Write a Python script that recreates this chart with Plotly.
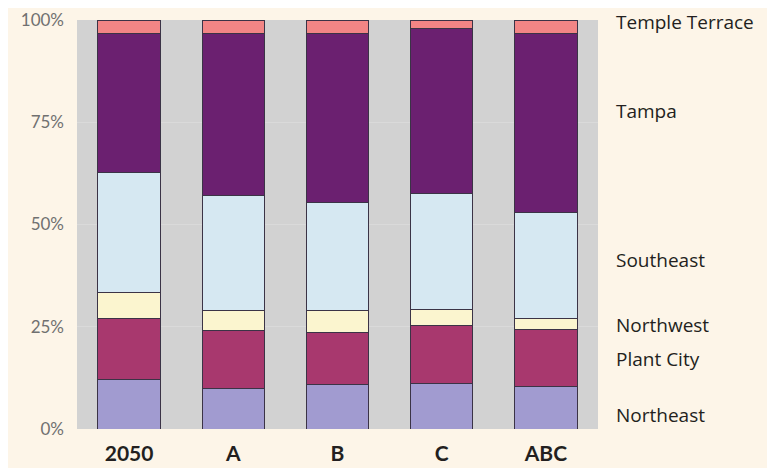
import plotly.graph_objects as go

categories = ["2050", "A", "B", "C", "ABC"]
northeast = [12.2, 10.0, 11.0, 11.2, 10.3]
plant_city = [14.9, 14.0, 12.7, 14.2, 14.1]
northwest = [6.2, 5.0, 5.2, 3.9, 2.7]
southeast = [29.5, 28.0, 26.6, 28.2, 25.9]
tampa = [34.0, 39.8, 41.3, 40.5, 43.8]
temple_terrace = [3.2, 3.2, 3.2, 2.0, 3.2]

series = [
    ("Northeast", northeast, "#a19bd0"),
    ("Plant City", plant_city, "#a8386e"),
    ("Northwest", northwest, "#fbf5cf"),
    ("Southeast", southeast, "#d6e8f2"),
    ("Tampa", tampa, "#6b2070"),
    ("Temple Terrace", temple_terrace, "#f28585"),
]
label_y = {"Northeast": 3.4, "Plant City": 17, "Northwest": 25.4,
           "Southeast": 41.3, "Tampa": 77.8, "Temple Terrace": 99.5}

fig = go.Figure()
for name, vals, color in series:
    fig.add_trace(go.Bar(x=categories, y=vals, name=name, width=0.6,
                         marker=dict(color=color, line=dict(color="#3b3346", width=1))))

annotations = [dict(text=name, x=1.03, xref="paper", y=label_y[name], yref="y",
                    xanchor="left", yanchor="middle", showarrow=False,
                    font=dict(family="Open Sans", size=19, color="#231f20"))
               for name, _, _ in series]

fig.update_layout(
    barmode="stack", width=775, height=468, showlegend=False,
    paper_bgcolor="#fdf5e8", plot_bgcolor="#d2d2d2",
    margin=dict(l=69, r=185, t=12, b=47),
    bargap=0.4,
    annotations=annotations,
    xaxis=dict(tickfont=dict(family="Lato", size=21, color="#231f20", weight="bold"),
               showgrid=False, ticks="", ticklabelstandoff=10, automargin=False),
    yaxis=dict(range=[0, 100], tickvals=[0, 25, 50, 75, 100],
               ticktext=["0%", "25%", "50%", "75%", "100%"],
               tickfont=dict(family="Lato", size=17, color="#707070"),
               gridcolor="#dadada", gridwidth=1, zeroline=False, ticklabelstandoff=12,
               automargin=False),
)
fig.write_html("out.html")
